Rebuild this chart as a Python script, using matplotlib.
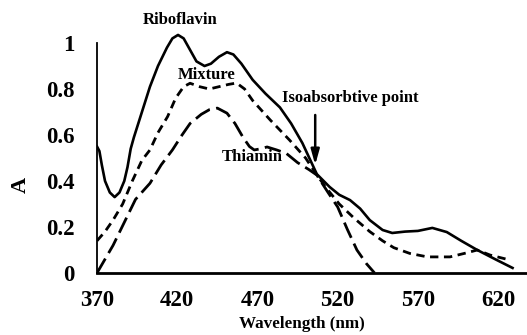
import matplotlib
matplotlib.use("Agg")
import matplotlib.pyplot as plt

# absorption spectra (wavelength in nm, absorbance)
ribo_wl = [370, 371.5, 373, 375, 378, 381, 384, 387, 389, 391, 393, 398, 403, 408,
           413.6, 417, 420.5, 424, 428, 432, 437, 441, 446, 451, 455, 460, 467, 475,
           484, 491, 498, 503, 507, 515, 521, 527.7, 534, 540, 548, 554, 562, 570,
           579, 588, 597, 607, 619, 629]
ribo_abs = [0.55, 0.53, 0.47, 0.40, 0.35, 0.33, 0.35, 0.40, 0.46, 0.54, 0.59, 0.70, 0.81, 0.90,
            0.98, 1.02, 1.035, 1.02, 0.97, 0.92, 0.90, 0.91, 0.94, 0.96, 0.95, 0.91, 0.84, 0.78,
            0.72, 0.65, 0.565, 0.49, 0.43, 0.374, 0.34, 0.317, 0.28, 0.23, 0.187, 0.174, 0.18, 0.183,
            0.196, 0.178, 0.14, 0.10, 0.057, 0.022]

mix_wl = [370, 375, 380, 386, 392, 398, 403, 408, 414, 419, 424, 428, 434, 440, 446,
          452, 457, 462, 467, 478, 490, 500, 507, 514, 521, 530, 540, 548, 555, 565,
          576, 590, 600, 607, 615, 627]
mix_abs = [0.14, 0.18, 0.23, 0.30, 0.40, 0.49, 0.535, 0.61, 0.68, 0.76, 0.81, 0.825, 0.81, 0.80, 0.81,
           0.82, 0.826, 0.80, 0.75, 0.665, 0.578, 0.50, 0.426, 0.36, 0.30, 0.24, 0.18, 0.14, 0.11, 0.085,
           0.07, 0.07, 0.087, 0.10, 0.078, 0.057]

thia_wl = [370, 375, 380, 387, 394, 403, 410, 417, 423, 428, 435, 440, 445, 451, 456,
           461, 465, 468, 472, 476, 482, 488, 495, 502, 507, 514, 520, 526, 532, 538, 543]
thia_abs = [0.0, 0.06, 0.12, 0.22, 0.32, 0.39, 0.47, 0.535, 0.60, 0.65, 0.69, 0.71, 0.717, 0.695, 0.65,
            0.59, 0.55, 0.535, 0.54, 0.548, 0.535, 0.52, 0.48, 0.45, 0.426, 0.35, 0.287, 0.19, 0.10, 0.04, 0.0]

x_ticks = [370, 420, 470, 520, 570, 620]
y_ticks = [0, 0.2, 0.4, 0.6, 0.8, 1]
y_ticklabels = ["0", "0.2", "0.4", "0.6", "0.8", "1"]

plt.rcParams["font.family"] = ["Liberation Serif", "DejaVu Serif"]
plt.rcParams["font.weight"] = "bold"

fig = plt.figure(figsize=(5.27, 3.35), dpi=100)
ax = fig.add_axes([97 / 527, 62 / 335, 430 / 527, 241.5 / 335])

ax.plot(ribo_wl, ribo_abs, color="black", lw=1.9, solid_joinstyle="round")
ax.plot(mix_wl, mix_abs, color="black", lw=2.0, dashes=(3.0, 2.0))
ax.plot(thia_wl, thia_abs, color="black", lw=2.0, dashes=(6.0, 2.3))

ax.set_xlim(370, 638)
ax.set_ylim(0, 1.05)
ax.set_xticks(x_ticks)
ax.set_yticks(y_ticks)
ax.set_yticklabels(y_ticklabels)
ax.tick_params(length=0, labelsize=16.5)
ax.tick_params(axis="y", pad=16)
ax.tick_params(axis="x", pad=12)

for side in ("top", "right"):
    ax.spines[side].set_visible(False)
ax.spines["left"].set_bounds(0, 1.0)
ax.spines["left"].set_linewidth(1.3)
ax.spines["bottom"].set_linewidth(2.0)

ax.set_xlabel("Wavelength (nm)", fontsize=12.3, fontweight="bold")
ax.xaxis.set_label_coords(0.477, -0.18)
ax.set_ylabel("A", fontsize=16, fontweight="bold")
ax.yaxis.set_label_coords(-0.155, 0.365)

lbl = dict(fontsize=12, fontweight="bold", ha="center", va="center")
ax.text(421.7, 1.10, "Riboflavin", clip_on=False, **lbl)
ax.text(438.6, 0.861, "Mixture", **lbl)
ax.text(466.6, 0.504, "Thiamin", **lbl)
ax.text(527.7, 0.761, "Isoabsorbtive point", **lbl)

ax.annotate("", xy=(506, 0.47), xytext=(506, 0.687),
            arrowprops=dict(arrowstyle="-|>,head_length=0.9,head_width=0.25",
                            color="black", lw=1.8, shrinkA=0, shrinkB=0))

fig.savefig("out.png", dpi=100)
